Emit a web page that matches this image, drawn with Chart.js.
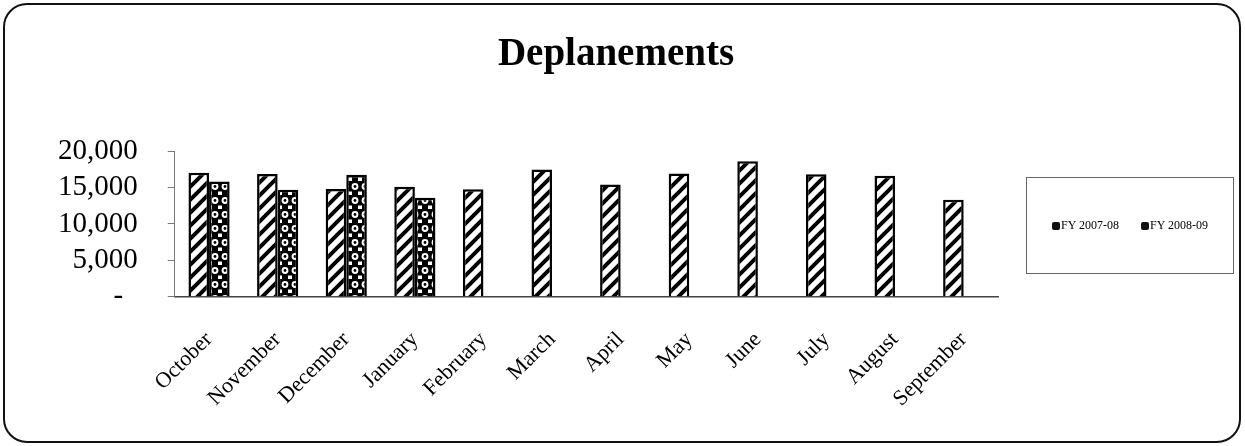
<!DOCTYPE html>
<html>
<head>
<meta charset="utf-8">
<script src="https://cdn.jsdelivr.net/npm/chart.js@4"></script>
<style>
  body { margin: 0; background: #fff; }
  #wrap { position: relative; width: 1245px; height: 446px; }
  #frame { position: absolute; left: 3px; top: 3px; width: 1234px; height: 436px;
           border: 2px solid #111; border-radius: 24px; pointer-events: none; }
  #legend { position: absolute; left: 1026px; top: 177px; width: 206px; height: 95px;
            border: 1px solid #666; display: flex; align-items: center; justify-content: center;
            gap: 22px; font-family: "Liberation Serif", "Times New Roman", serif; font-size: 12px; color: #000; }
  #legend span.sw { display: inline-block; width: 8px; height: 8px; background: #111; margin-right: 1px; vertical-align: -0.5px; border-radius: 2px; }
</style>
</head>
<body>
<div id="wrap">
  <canvas id="deplChart"></canvas>
  <div id="frame"></div>
  <div id="legend"></div>
</div>
<script>
const months = ['October', 'November', 'December', 'January', 'February', 'March',
                'April', 'May', 'June', 'July', 'August', 'September'];
const fy0708 = [17000, 16850, 14800, 15100, 14750, 17450, 15400, 16900, 18600, 16800, 16600, 13300];
const fy0809 = [15800, 14700, 16750, 13600, null, null, null, null, null, null, null, null];
const seriesNames = ['FY 2007-08', 'FY 2008-09'];
const chartTitle = 'Deplanements';

// hatch fills
function stripePattern() {
    const s = 13;
    const c = document.createElement('canvas');
    c.width = s; c.height = s;
    const g = c.getContext('2d');
    g.fillStyle = '#fff';
    g.fillRect(0, 0, s, s);
    g.strokeStyle = '#000';
    g.lineWidth = 4;
    g.beginPath();
    g.moveTo(-3, s + 3); g.lineTo(s + 3, -3);
    g.moveTo(-s, s); g.lineTo(s, -s);
    g.moveTo(0, 2 * s); g.lineTo(2 * s, 0);
    g.stroke();
    return g.createPattern(c, 'repeat');
}

function dotPattern() {
    const c = document.createElement('canvas');
    c.width = 10; c.height = 14;
    const g = c.getContext('2d');
    g.fillStyle = '#000';
    g.fillRect(0, 0, 10, 14);
    g.fillStyle = '#fff';
    g.beginPath();
    g.arc(5, 4.5, 3.4, 0, Math.PI * 2);
    g.fill();
    g.fillStyle = '#000';
    g.beginPath();
    g.arc(5, 4.5, 1.4, 0, Math.PI * 2);
    g.fill();
    g.fillStyle = '#fff';
    g.fillRect(0, 9.5, 2, 3.5);
    g.fillRect(8, 9.5, 2, 3.5);
    return g.createPattern(c, 'repeat');
}

// title drawn centred over the plot+legend region
const titlePlugin = {
    id: 'titleText',
    afterDraw(chart) {
        const ctx = chart.ctx;
        ctx.save();
        ctx.font = 'bold 39px "Liberation Serif", "Times New Roman", serif';
        ctx.fillStyle = '#000';
        ctx.textAlign = 'center';
        ctx.textBaseline = 'middle';
        ctx.fillText(chartTitle, 616, 55);
        ctx.restore();
    }
};

const ctx = document.getElementById('deplChart').getContext('2d');
const deplChart = new Chart(ctx, {
    type: 'bar',
    data: {
        labels: months,
        datasets: [
            { label: seriesNames[0], data: fy0708, backgroundColor: stripePattern(),
              borderColor: '#000', borderWidth: 2.5 },
            { label: seriesNames[1], data: fy0809, backgroundColor: dotPattern(),
              borderColor: '#000', borderWidth: 2.5 }
        ]
    },
    options: {
        responsive: true,
        maintainAspectRatio: false,
        animation: false,
        layout: { padding: { top: 151, right: 247, bottom: 12, left: 28 } },
        datasets: { bar: { barPercentage: 1, categoryPercentage: 0.6 } },
        plugins: {
            legend: { display: false },
            title: { display: false },
            tooltip: { enabled: false }
        },
        scales: {
            x: {
                grid: { display: false },
                border: { color: '#444', width: 1.5 },
                ticks: {
                    color: '#000', maxRotation: 45, minRotation: 45, padding: 22, autoSkip: false,
                    font: { family: '"Liberation Serif", "Times New Roman", serif', size: 22 }
                }
            },
            y: {
                min: 0, max: 20000,
                grid: { drawOnChartArea: false, tickLength: 7, color: '#777' },
                border: { color: '#777', width: 1 },
                ticks: {
                    stepSize: 5000, color: '#000', padding: 30, autoSkip: false,
                    font: { family: '"Liberation Serif", "Times New Roman", serif', size: 29 },
                    callback: v => v === 0 ? '-  ' : v.toLocaleString('en-US')
                }
            }
        }
    },
    plugins: [titlePlugin]
});

// legend built from dataset labels
const legendEl = document.getElementById('legend');
seriesNames.forEach(name => {
    const item = document.createElement('div');
    item.innerHTML = '<span class="sw"></span>' + name;
    legendEl.appendChild(item);
});
</script>
</body>
</html>
